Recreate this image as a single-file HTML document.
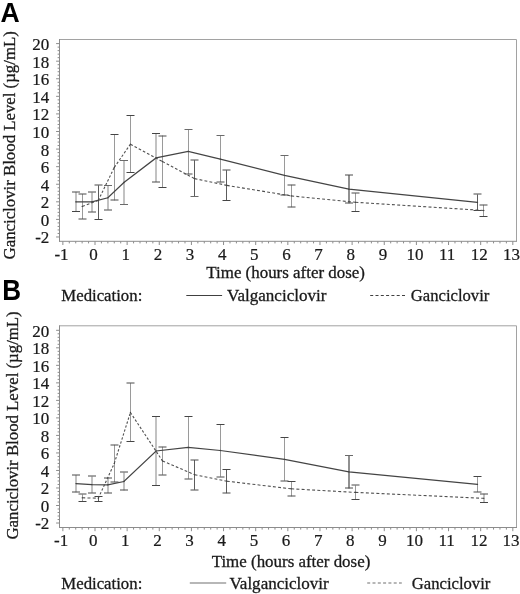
<!DOCTYPE html>
<html><head><meta charset="utf-8"><style>
html,body{margin:0;padding:0;background:#fff;width:520px;height:594px;overflow:hidden;font-family:"Liberation Serif",serif;}
svg{display:block;filter:grayscale(100%);}
.s{stroke:#1a1a1a;stroke-width:0.3px;}
.t{stroke-width:0.22px;}
</style></head><body>
<svg width="520" height="594" viewBox="0 0 520 594">
<rect width="520" height="594" fill="#ffffff"/>
<text transform="translate(0.5 21.7) scale(1 1.045)" font-family="Liberation Sans, sans-serif" font-weight="bold" font-size="26.6" fill="#000">A</text>
<text transform="translate(2.2 299.6) scale(0.98 1.08)" font-family="Liberation Sans, sans-serif" font-weight="bold" font-size="26.6" fill="#000">B</text>
<path d="M59.5 39.5H516.5" stroke="#a2a2a2" stroke-width="1"/>
<path d="M516.5 39.5V241.3" stroke="#a2a2a2" stroke-width="1"/>
<path d="M59.5 39.0V241.8" stroke="#8c8c8c" stroke-width="1"/>
<path d="M59.0 241.3H517.0" stroke="#8c8c8c" stroke-width="1"/>
<path d="M62.86 241.3v3.7 M69.29 241.3v2.1 M75.72 241.3v2.1 M82.14 241.3v2.1 M88.57 241.3v2.1 M95.00 241.3v3.7 M101.43 241.3v2.1 M107.86 241.3v2.1 M114.28 241.3v2.1 M120.71 241.3v2.1 M127.14 241.3v3.7 M133.57 241.3v2.1 M140.00 241.3v2.1 M146.42 241.3v2.1 M152.85 241.3v2.1 M159.28 241.3v3.7 M165.71 241.3v2.1 M172.14 241.3v2.1 M178.56 241.3v2.1 M184.99 241.3v2.1 M191.42 241.3v3.7 M197.85 241.3v2.1 M204.28 241.3v2.1 M210.70 241.3v2.1 M217.13 241.3v2.1 M223.56 241.3v3.7 M229.99 241.3v2.1 M236.42 241.3v2.1 M242.84 241.3v2.1 M249.27 241.3v2.1 M255.70 241.3v3.7 M262.13 241.3v2.1 M268.56 241.3v2.1 M274.98 241.3v2.1 M281.41 241.3v2.1 M287.84 241.3v3.7 M294.27 241.3v2.1 M300.70 241.3v2.1 M307.12 241.3v2.1 M313.55 241.3v2.1 M319.98 241.3v3.7 M326.41 241.3v2.1 M332.84 241.3v2.1 M339.26 241.3v2.1 M345.69 241.3v2.1 M352.12 241.3v3.7 M358.55 241.3v2.1 M364.98 241.3v2.1 M371.40 241.3v2.1 M377.83 241.3v2.1 M384.26 241.3v3.7 M390.69 241.3v2.1 M397.12 241.3v2.1 M403.54 241.3v2.1 M409.97 241.3v2.1 M416.40 241.3v3.7 M422.83 241.3v2.1 M429.26 241.3v2.1 M435.68 241.3v2.1 M442.11 241.3v2.1 M448.54 241.3v3.7 M454.97 241.3v2.1 M461.40 241.3v2.1 M467.82 241.3v2.1 M474.25 241.3v2.1 M480.68 241.3v3.7 M487.11 241.3v2.1 M493.54 241.3v2.1 M499.96 241.3v2.1 M506.39 241.3v2.1 M512.82 241.3v3.7 M59.5 236.98h-3.4 M59.5 233.46h-1.9 M59.5 229.95h-1.9 M59.5 226.43h-1.9 M59.5 222.92h-1.9 M59.5 219.40h-3.4 M59.5 215.88h-1.9 M59.5 212.37h-1.9 M59.5 208.85h-1.9 M59.5 205.34h-1.9 M59.5 201.82h-3.4 M59.5 198.30h-1.9 M59.5 194.79h-1.9 M59.5 191.27h-1.9 M59.5 187.76h-1.9 M59.5 184.24h-3.4 M59.5 180.72h-1.9 M59.5 177.21h-1.9 M59.5 173.69h-1.9 M59.5 170.18h-1.9 M59.5 166.66h-3.4 M59.5 163.14h-1.9 M59.5 159.63h-1.9 M59.5 156.11h-1.9 M59.5 152.60h-1.9 M59.5 149.08h-3.4 M59.5 145.56h-1.9 M59.5 142.05h-1.9 M59.5 138.53h-1.9 M59.5 135.02h-1.9 M59.5 131.50h-3.4 M59.5 127.98h-1.9 M59.5 124.47h-1.9 M59.5 120.95h-1.9 M59.5 117.44h-1.9 M59.5 113.92h-3.4 M59.5 110.40h-1.9 M59.5 106.89h-1.9 M59.5 103.37h-1.9 M59.5 99.86h-1.9 M59.5 96.34h-3.4 M59.5 92.82h-1.9 M59.5 89.31h-1.9 M59.5 85.79h-1.9 M59.5 82.28h-1.9 M59.5 78.76h-3.4 M59.5 75.24h-1.9 M59.5 71.73h-1.9 M59.5 68.21h-1.9 M59.5 64.70h-1.9 M59.5 61.18h-3.4 M59.5 57.66h-1.9 M59.5 54.15h-1.9 M59.5 50.63h-1.9 M59.5 47.12h-1.9 M59.5 43.60h-3.4" stroke="#8c8c8c" stroke-width="1" fill="none"/>
<g class="s t" font-family="Liberation Serif, serif" font-size="17" fill="#1a1a1a"><text x="49.3" y="243.4" text-anchor="end">-2</text><text x="49.3" y="225.8" text-anchor="end">0</text><text x="49.3" y="208.2" text-anchor="end">2</text><text x="49.3" y="190.6" text-anchor="end">4</text><text x="49.3" y="173.1" text-anchor="end">6</text><text x="49.3" y="155.5" text-anchor="end">8</text><text x="49.3" y="137.9" text-anchor="end">10</text><text x="49.3" y="120.3" text-anchor="end">12</text><text x="49.3" y="102.7" text-anchor="end">14</text><text x="49.3" y="85.2" text-anchor="end">16</text><text x="49.3" y="67.6" text-anchor="end">18</text><text x="49.3" y="50.0" text-anchor="end">20</text><text x="61.5" y="260.2" text-anchor="middle">-1</text><text x="93.6" y="260.2" text-anchor="middle">0</text><text x="125.7" y="260.2" text-anchor="middle">1</text><text x="157.9" y="260.2" text-anchor="middle">2</text><text x="190.0" y="260.2" text-anchor="middle">3</text><text x="222.2" y="260.2" text-anchor="middle">4</text><text x="254.3" y="260.2" text-anchor="middle">5</text><text x="286.4" y="260.2" text-anchor="middle">6</text><text x="318.6" y="260.2" text-anchor="middle">7</text><text x="350.7" y="260.2" text-anchor="middle">8</text><text x="382.9" y="260.2" text-anchor="middle">9</text><text x="415.0" y="260.2" text-anchor="middle">10</text><text x="447.1" y="260.2" text-anchor="middle">11</text><text x="479.3" y="260.2" text-anchor="middle">12</text><text x="511.4" y="260.2" text-anchor="middle">13</text></g>
<path d="M76.0 191.9V211.3M92.0 192.4V211.9M108.0 185.9V209.7M124.0 160.2V204.8M156.0 133.5V182.0" stroke="#858585" stroke-width="1" fill="none"/>
<path d="M477.5 194.4V210.4M98.5 185.3V219.2M194.5 160.2V196.3M226.5 170.2V200.5" stroke="#5c5c5c" stroke-width="1" fill="none"/>
<path d="M188.5 129.0V174.2M220.5 135.5V182.3M284.5 155.9V194.6M82.5 194.0V219.0M114.5 134.4V200.4M130.5 115.4V172.7M162.5 135.5V187.7M291.5 184.8V207.2M355.5 193.1V211.7M483.5 204.8V216.4" stroke="#9a9a9a" stroke-width="1" fill="none"/>
<path d="M349.0 175.0V203.2" stroke="#909090" stroke-width="2" fill="none"/>
<path d="M72.0 192.0h8M88.0 192.0h8M88.0 212.0h8M104.0 210.0h8M152.0 182.0h8M184.5 174.0h8M216.5 182.0h8M280.5 195.0h8M345.0 175.0h8M345.0 203.0h8M473.5 194.0h8M78.5 194.0h8M78.5 219.0h8M94.5 185.0h8M110.5 200.0h8M158.5 136.0h8M190.5 160.0h8M222.5 170.0h8M287.5 185.0h8M287.5 207.0h8M351.5 193.0h8M479.5 205.0h8" stroke="#4a4a4a" stroke-width="1" fill="none"/>
<path d="M72.0 211.5h8M152.0 133.5h8M473.5 210.5h8M94.5 219.5h8M110.5 134.5h8M126.5 115.5h8M126.5 172.5h8M158.5 187.5h8M222.5 200.5h8M351.5 211.5h8M479.5 216.5h8" stroke="#454545" stroke-width="1" fill="none"/>
<path d="M104.0 185.5h8M120.0 160.5h8M120.0 204.5h8M184.5 129.5h8M216.5 135.5h8M280.5 155.5h8M190.5 196.5h8" stroke="#6a6a6a" stroke-width="1" fill="none"/>
<path d="M75.8 201.8 L91.9 201.9 L107.9 197.8 L123.9 182.5 L156.1 157.9 L188.2 151.4 L220.3 159.1 L284.5 175.3 L348.9 189.2 L477.5 202.4" stroke="#444444" stroke-width="1.2" fill="none"/>
<path d="M82.2 206.4L98.3 200.4" stroke="#505050" stroke-width="1.1" fill="none" stroke-dasharray="2.78 2.10"/>
<path d="M98.3 200.4L114.3 167.4" stroke="#505050" stroke-width="1.1" fill="none" stroke-dasharray="2.41 1.81"/>
<path d="M114.3 167.4L130.4 144.2" stroke="#505050" stroke-width="1.1" fill="none" stroke-dasharray="2.46 1.86"/>
<path d="M130.4 144.2L162.5 161.6" stroke="#505050" stroke-width="1.1" fill="none" stroke-dasharray="2.70 2.03"/>
<path d="M162.5 161.6L194.6 178.6" stroke="#505050" stroke-width="1.1" fill="none" stroke-dasharray="2.70 2.04"/>
<path d="M194.6 178.6L226.8 185.4" stroke="#505050" stroke-width="1.1" fill="none" stroke-dasharray="2.88 2.17"/>
<path d="M226.8 185.4L291.2 195.9" stroke="#505050" stroke-width="1.1" fill="none" stroke-dasharray="2.91 2.20"/>
<path d="M291.2 195.9L355.4 202.3" stroke="#505050" stroke-width="1.1" fill="none" stroke-dasharray="2.95 2.23"/>
<path d="M355.4 202.3L483.8 210.5" stroke="#505050" stroke-width="1.1" fill="none" stroke-dasharray="2.98 2.25"/>
<g fill="#404040"><circle cx="75.8" cy="201.8" r="0.65"/><circle cx="91.9" cy="201.9" r="0.65"/><circle cx="107.9" cy="197.8" r="0.65"/><circle cx="123.9" cy="182.5" r="0.65"/><circle cx="156.1" cy="157.9" r="0.65"/><circle cx="188.2" cy="151.4" r="0.65"/><circle cx="220.3" cy="159.1" r="0.65"/><circle cx="284.5" cy="175.3" r="0.65"/><circle cx="348.9" cy="189.2" r="0.65"/><circle cx="477.5" cy="202.4" r="0.65"/><circle cx="82.2" cy="206.4" r="0.65"/><circle cx="98.3" cy="200.4" r="0.65"/><circle cx="114.3" cy="167.4" r="0.65"/><circle cx="130.4" cy="144.2" r="0.65"/><circle cx="162.5" cy="161.6" r="0.65"/><circle cx="194.6" cy="178.6" r="0.65"/><circle cx="226.8" cy="185.4" r="0.65"/><circle cx="291.2" cy="195.9" r="0.65"/><circle cx="355.4" cy="202.3" r="0.65"/><circle cx="483.8" cy="210.5" r="0.65"/></g>
<path d="M59.5 325.8H516.5" stroke="#a2a2a2" stroke-width="1"/>
<path d="M516.5 325.8V527.5" stroke="#a2a2a2" stroke-width="1"/>
<path d="M59.5 325.3V528.0" stroke="#8c8c8c" stroke-width="1"/>
<path d="M59.0 527.5H517.0" stroke="#8c8c8c" stroke-width="1"/>
<path d="M62.86 527.5v3.7 M69.29 527.5v2.1 M75.72 527.5v2.1 M82.14 527.5v2.1 M88.57 527.5v2.1 M95.00 527.5v3.7 M101.43 527.5v2.1 M107.86 527.5v2.1 M114.28 527.5v2.1 M120.71 527.5v2.1 M127.14 527.5v3.7 M133.57 527.5v2.1 M140.00 527.5v2.1 M146.42 527.5v2.1 M152.85 527.5v2.1 M159.28 527.5v3.7 M165.71 527.5v2.1 M172.14 527.5v2.1 M178.56 527.5v2.1 M184.99 527.5v2.1 M191.42 527.5v3.7 M197.85 527.5v2.1 M204.28 527.5v2.1 M210.70 527.5v2.1 M217.13 527.5v2.1 M223.56 527.5v3.7 M229.99 527.5v2.1 M236.42 527.5v2.1 M242.84 527.5v2.1 M249.27 527.5v2.1 M255.70 527.5v3.7 M262.13 527.5v2.1 M268.56 527.5v2.1 M274.98 527.5v2.1 M281.41 527.5v2.1 M287.84 527.5v3.7 M294.27 527.5v2.1 M300.70 527.5v2.1 M307.12 527.5v2.1 M313.55 527.5v2.1 M319.98 527.5v3.7 M326.41 527.5v2.1 M332.84 527.5v2.1 M339.26 527.5v2.1 M345.69 527.5v2.1 M352.12 527.5v3.7 M358.55 527.5v2.1 M364.98 527.5v2.1 M371.40 527.5v2.1 M377.83 527.5v2.1 M384.26 527.5v3.7 M390.69 527.5v2.1 M397.12 527.5v2.1 M403.54 527.5v2.1 M409.97 527.5v2.1 M416.40 527.5v3.7 M422.83 527.5v2.1 M429.26 527.5v2.1 M435.68 527.5v2.1 M442.11 527.5v2.1 M448.54 527.5v3.7 M454.97 527.5v2.1 M461.40 527.5v2.1 M467.82 527.5v2.1 M474.25 527.5v2.1 M480.68 527.5v3.7 M487.11 527.5v2.1 M493.54 527.5v2.1 M499.96 527.5v2.1 M506.39 527.5v2.1 M512.82 527.5v3.7 M59.5 523.02h-3.4 M59.5 519.52h-1.9 M59.5 516.01h-1.9 M59.5 512.51h-1.9 M59.5 509.00h-1.9 M59.5 505.50h-3.4 M59.5 502.00h-1.9 M59.5 498.49h-1.9 M59.5 494.99h-1.9 M59.5 491.48h-1.9 M59.5 487.98h-3.4 M59.5 484.48h-1.9 M59.5 480.97h-1.9 M59.5 477.47h-1.9 M59.5 473.96h-1.9 M59.5 470.46h-3.4 M59.5 466.96h-1.9 M59.5 463.45h-1.9 M59.5 459.95h-1.9 M59.5 456.44h-1.9 M59.5 452.94h-3.4 M59.5 449.44h-1.9 M59.5 445.93h-1.9 M59.5 442.43h-1.9 M59.5 438.92h-1.9 M59.5 435.42h-3.4 M59.5 431.92h-1.9 M59.5 428.41h-1.9 M59.5 424.91h-1.9 M59.5 421.40h-1.9 M59.5 417.90h-3.4 M59.5 414.40h-1.9 M59.5 410.89h-1.9 M59.5 407.39h-1.9 M59.5 403.88h-1.9 M59.5 400.38h-3.4 M59.5 396.88h-1.9 M59.5 393.37h-1.9 M59.5 389.87h-1.9 M59.5 386.36h-1.9 M59.5 382.86h-3.4 M59.5 379.36h-1.9 M59.5 375.85h-1.9 M59.5 372.35h-1.9 M59.5 368.84h-1.9 M59.5 365.34h-3.4 M59.5 361.84h-1.9 M59.5 358.33h-1.9 M59.5 354.83h-1.9 M59.5 351.32h-1.9 M59.5 347.82h-3.4 M59.5 344.32h-1.9 M59.5 340.81h-1.9 M59.5 337.31h-1.9 M59.5 333.80h-1.9 M59.5 330.30h-3.4" stroke="#8c8c8c" stroke-width="1" fill="none"/>
<g class="s t" font-family="Liberation Serif, serif" font-size="17" fill="#1a1a1a"><text x="49.3" y="529.4" text-anchor="end">-2</text><text x="49.3" y="511.9" text-anchor="end">0</text><text x="49.3" y="494.4" text-anchor="end">2</text><text x="49.3" y="476.9" text-anchor="end">4</text><text x="49.3" y="459.3" text-anchor="end">6</text><text x="49.3" y="441.8" text-anchor="end">8</text><text x="49.3" y="424.3" text-anchor="end">10</text><text x="49.3" y="406.8" text-anchor="end">12</text><text x="49.3" y="389.3" text-anchor="end">14</text><text x="49.3" y="371.7" text-anchor="end">16</text><text x="49.3" y="354.2" text-anchor="end">18</text><text x="49.3" y="336.7" text-anchor="end">20</text><text x="61.1" y="546.4" text-anchor="middle">-1</text><text x="93.2" y="546.4" text-anchor="middle">0</text><text x="125.3" y="546.4" text-anchor="middle">1</text><text x="157.5" y="546.4" text-anchor="middle">2</text><text x="189.6" y="546.4" text-anchor="middle">3</text><text x="221.8" y="546.4" text-anchor="middle">4</text><text x="253.9" y="546.4" text-anchor="middle">5</text><text x="286.0" y="546.4" text-anchor="middle">6</text><text x="318.2" y="546.4" text-anchor="middle">7</text><text x="350.3" y="546.4" text-anchor="middle">8</text><text x="382.5" y="546.4" text-anchor="middle">9</text><text x="414.6" y="546.4" text-anchor="middle">10</text><text x="446.7" y="546.4" text-anchor="middle">11</text><text x="478.9" y="546.4" text-anchor="middle">12</text><text x="511.0" y="546.4" text-anchor="middle">13</text></g>
<path d="M76.0 475.0V492.3M92.0 476.5V492.8M108.0 477.5V493.1M124.0 472.5V490.4M156.0 416.4V485.2M484.0 493.8V502.8" stroke="#858585" stroke-width="1" fill="none"/>
<path d="M98.5 496.2V501.2M194.5 460.0V489.8M226.5 469.5V493.2" stroke="#5c5c5c" stroke-width="1" fill="none"/>
<path d="M188.5 416.4V478.8M220.5 424.5V476.7M284.5 437.5V480.8M477.5 476.4V492.1M82.5 494.5V501.2M114.5 444.8V482.1M130.5 383.1V441.0M162.5 446.8V474.8M291.5 481.2V496.4M355.5 485.4V499.2" stroke="#9a9a9a" stroke-width="1" fill="none"/>
<path d="M349.0 455.2V488.5" stroke="#909090" stroke-width="2" fill="none"/>
<path d="M72.0 475.0h8M72.0 492.0h8M88.0 476.0h8M88.0 493.0h8M104.0 478.0h8M104.0 493.0h8M120.0 472.0h8M120.0 490.0h8M184.5 479.0h8M216.5 477.0h8M280.5 481.0h8M345.0 488.0h8M473.5 492.0h8M78.5 494.0h8M110.5 445.0h8M110.5 482.0h8M126.5 383.0h8M158.5 447.0h8M158.5 475.0h8M190.5 460.0h8M190.5 490.0h8M222.5 493.0h8M287.5 496.0h8M351.5 485.0h8M480.0 494.0h8" stroke="#4a4a4a" stroke-width="1" fill="none"/>
<path d="M152.0 416.5h8M152.0 485.5h8M184.5 416.5h8M216.5 424.5h8M280.5 437.5h8M473.5 476.5h8M78.5 501.5h8M94.5 496.5h8M94.5 501.5h8M126.5 441.5h8M222.5 469.5h8M287.5 481.5h8M351.5 499.5h8M480.0 502.5h8" stroke="#454545" stroke-width="1" fill="none"/>
<path d="M345.0 455.5h8" stroke="#6a6a6a" stroke-width="1" fill="none"/>
<path d="M76.0 483.6 L91.9 484.6 L107.8 484.8 L123.9 481.5 L156.1 451.0 L188.2 447.4 L220.3 450.5 L284.5 459.4 L348.9 471.8 L477.5 484.4" stroke="#444444" stroke-width="1.2" fill="none"/>
<path d="M82.2 497.8L98.3 498.2" stroke="#505050" stroke-width="1.1" fill="none" stroke-dasharray="3.00 2.27"/>
<path d="M98.3 498.2L114.3 463.4" stroke="#505050" stroke-width="1.1" fill="none" stroke-dasharray="2.40 1.81"/>
<path d="M114.3 463.4L130.4 412.5" stroke="#505050" stroke-width="1.1" fill="none" stroke-dasharray="2.37 1.79"/>
<path d="M130.4 412.5L162.5 460.9" stroke="#505050" stroke-width="1.1" fill="none" stroke-dasharray="2.45 1.85"/>
<path d="M162.5 460.9L194.6 474.7" stroke="#505050" stroke-width="1.1" fill="none" stroke-dasharray="2.75 2.08"/>
<path d="M194.6 474.7L226.8 481.2" stroke="#505050" stroke-width="1.1" fill="none" stroke-dasharray="2.89 2.18"/>
<path d="M226.8 481.2L291.2 488.8" stroke="#505050" stroke-width="1.1" fill="none" stroke-dasharray="2.94 2.22"/>
<path d="M291.2 488.8L355.4 492.4" stroke="#505050" stroke-width="1.1" fill="none" stroke-dasharray="2.98 2.25"/>
<path d="M355.4 492.4L483.8 498.3" stroke="#505050" stroke-width="1.1" fill="none" stroke-dasharray="2.99 2.26"/>
<g fill="#404040"><circle cx="76.0" cy="483.6" r="0.65"/><circle cx="91.9" cy="484.6" r="0.65"/><circle cx="107.8" cy="484.8" r="0.65"/><circle cx="123.9" cy="481.5" r="0.65"/><circle cx="156.1" cy="451.0" r="0.65"/><circle cx="188.2" cy="447.4" r="0.65"/><circle cx="220.3" cy="450.5" r="0.65"/><circle cx="284.5" cy="459.4" r="0.65"/><circle cx="348.9" cy="471.8" r="0.65"/><circle cx="477.5" cy="484.4" r="0.65"/><circle cx="82.2" cy="497.8" r="0.65"/><circle cx="98.3" cy="498.2" r="0.65"/><circle cx="114.3" cy="463.4" r="0.65"/><circle cx="130.4" cy="412.5" r="0.65"/><circle cx="162.5" cy="460.9" r="0.65"/><circle cx="194.6" cy="474.7" r="0.65"/><circle cx="226.8" cy="481.2" r="0.65"/><circle cx="291.2" cy="488.8" r="0.65"/><circle cx="355.4" cy="492.4" r="0.65"/><circle cx="483.8" cy="498.3" r="0.65"/></g>
<text transform="translate(15.0 259.4) rotate(-90)" class="s" font-family="Liberation Serif, serif" font-size="17" fill="#1a1a1a" textLength="228.2" lengthAdjust="spacingAndGlyphs">Ganciclovir Blood Level (µg/mL)</text>
<text transform="translate(17.8 539.5) rotate(-90)" class="s" font-family="Liberation Serif, serif" font-size="17" fill="#1a1a1a" textLength="228.2" lengthAdjust="spacingAndGlyphs">Ganciclovir Blood Level (µg/mL)</text>
<text x="206.3" y="278.0" class="s" font-family="Liberation Serif, serif" font-size="17" fill="#1a1a1a" textLength="158.6" lengthAdjust="spacingAndGlyphs">Time (hours after dose)</text>
<text x="211.7" y="567.1" class="s" font-family="Liberation Serif, serif" font-size="17" fill="#1a1a1a" textLength="158.6" lengthAdjust="spacingAndGlyphs">Time (hours after dose)</text>
<text x="61.3" y="300.5" class="s" font-family="Liberation Serif, serif" font-size="17" fill="#1a1a1a" textLength="81" lengthAdjust="spacingAndGlyphs">Medication:</text>
<path d="M186.3 295.5H222.1" stroke="#404040" stroke-width="1.1"/>
<text x="227.0" y="300.5" class="s" font-family="Liberation Serif, serif" font-size="17" fill="#1a1a1a" textLength="99.4" lengthAdjust="spacingAndGlyphs">Valganciclovir</text>
<path d="M370.2 295.5H405.0" stroke="#404040" stroke-width="1.1" stroke-dasharray="3 2.3"/>
<text x="410.8" y="300.5" class="s" font-family="Liberation Serif, serif" font-size="17" fill="#1a1a1a" textLength="78.5" lengthAdjust="spacingAndGlyphs">Ganciclovir</text>
<text x="61.3" y="588.5" class="s" font-family="Liberation Serif, serif" font-size="17" fill="#1a1a1a" textLength="81" lengthAdjust="spacingAndGlyphs">Medication:</text>
<path d="M189.8 583.0H226.2" stroke="#707070" stroke-width="1.1"/>
<text x="229.4" y="588.5" class="s" font-family="Liberation Serif, serif" font-size="17" fill="#1a1a1a" textLength="99.4" lengthAdjust="spacingAndGlyphs">Valganciclovir</text>
<path d="M367.2 583.0H401.8" stroke="#707070" stroke-width="1.1" stroke-dasharray="3 2.3"/>
<text x="411.8" y="588.5" class="s" font-family="Liberation Serif, serif" font-size="17" fill="#1a1a1a" textLength="78.5" lengthAdjust="spacingAndGlyphs">Ganciclovir</text>
</svg>
</body></html>
